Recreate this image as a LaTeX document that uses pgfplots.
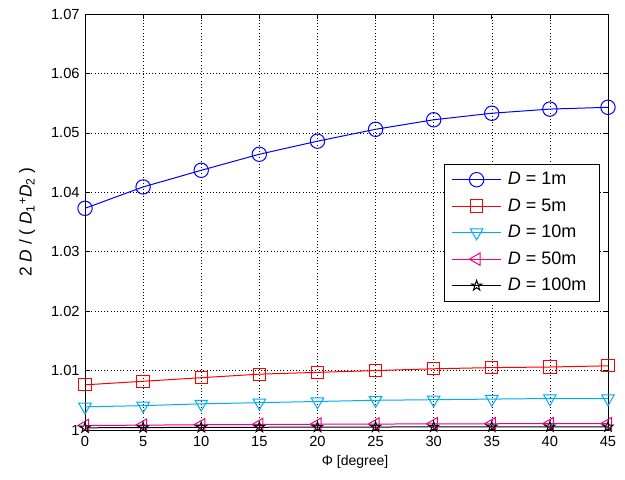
\documentclass[border=0pt]{standalone}
\usepackage{pgfplots}
\pgfplotsset{compat=1.18}
\usepackage{fontspec}
\setmainfont{Liberation Sans}
\pgfdeclareplotmark{pentagram}{%
  \pgfpathmoveto{\pgfpointpolar{90}{\pgfplotmarksize}}%
  \pgfpathlineto{\pgfpointpolar{126}{0.382\pgfplotmarksize}}%
  \pgfpathlineto{\pgfpointpolar{162}{\pgfplotmarksize}}%
  \pgfpathlineto{\pgfpointpolar{198}{0.382\pgfplotmarksize}}%
  \pgfpathlineto{\pgfpointpolar{234}{\pgfplotmarksize}}%
  \pgfpathlineto{\pgfpointpolar{270}{0.382\pgfplotmarksize}}%
  \pgfpathlineto{\pgfpointpolar{306}{\pgfplotmarksize}}%
  \pgfpathlineto{\pgfpointpolar{342}{0.382\pgfplotmarksize}}%
  \pgfpathlineto{\pgfpointpolar{18}{\pgfplotmarksize}}%
  \pgfpathlineto{\pgfpointpolar{54}{0.382\pgfplotmarksize}}%
  \pgfpathclose
  \pgfusepathqstroke
}
\begin{document}
\begin{tikzpicture}[x=1pt,y=1pt]
\useasboundingbox (-63.75,-36.75) rectangle (405,322.5);
\begin{axis}[
  at={(0,0)}, anchor=south west,
  scale only axis,
  width=392.25pt, height=312pt,
  xmin=0, xmax=45, ymin=1, ymax=1.07,
  xtick={0,5,...,45},
  ytick={1,1.01,1.02,1.03,1.04,1.05,1.06,1.07},
  yticklabel style={/pgf/number format/fixed,/pgf/number format/precision=2},
  /pgf/number format/assume math mode=true,
  tick align=inside,
  major tick length=4pt,
  grid=major,
  major grid style={black, line width=0.4pt, dotted},
  axis line style={black, line width=0.5pt},
  tick style={black, line width=0.5pt},
  ticklabel style={font=\fontsize{11}{13}\selectfont},
  xticklabel style={yshift=-1pt},
  yticklabel style={xshift=-0.5pt},
  xlabel={Φ [degree]},
  ylabel={2 \textit{D} / ( \textit{D}\textsubscript{1}\raisebox{0.55ex}{\small+}\textit{D}\textsubscript{2} )},
  xlabel style={font=\fontsize{10.5}{13}\selectfont, xshift=6.5pt},
  ylabel style={font=\fontsize{13}{15}\selectfont, yshift=5pt},
  legend style={at={(0.9847,0.639)}, anchor=north east, line width=0.5pt,
    font=\fontsize{13.5}{15}\selectfont, row sep=5pt, inner xsep=5.5pt, inner ysep=4pt,
    nodes={inner xsep=4.5pt}},
  legend cell align=left,
  legend image code/.code={\draw[mark repeat=2,mark phase=2,#1] plot coordinates {(0pt,0pt) (18.5pt,0pt) (37pt,0pt)};},
  every axis plot/.append style={line width=0.75pt},
]
\addplot[color=blue, mark=o, mark size=5.4pt, mark options={draw=blue, solid}] coordinates {
(0,1.0373) (5,1.0409) (10,1.0437) (15,1.0464) (20,1.0486) (25,1.0506) (30,1.0522) (35,1.0533) (40,1.0540) (45,1.0543)};
\addlegendentry{\textit{D} = 1m}
\addplot[color=red, mark=square, mark size=4.6pt, mark options={draw=red, solid}] coordinates {
(0,1.0076) (5,1.0082) (10,1.0088) (15,1.0094) (20,1.0097) (25,1.0100) (30,1.0103) (35,1.0105) (40,1.0106) (45,1.0108)};
\addlegendentry{\textit{D} = 5m}
\addplot[color=cyan, mark=triangle, mark size=5.4pt, mark options={rotate=180, draw=cyan, solid}] coordinates {
(0,1.0039) (5,1.0041) (10,1.0044) (15,1.0046) (20,1.0048) (25,1.0050) (30,1.0051) (35,1.0052) (40,1.0053) (45,1.0053)};
\addlegendentry{\textit{D} = 10m}
\addplot[color=magenta, mark=triangle, mark size=5.4pt, mark options={rotate=90, draw=magenta, solid}] coordinates {
(0,1.00075) (5,1.00082) (10,1.00088) (15,1.00093) (20,1.00097) (25,1.00100) (30,1.00103) (35,1.00105) (40,1.00107) (45,1.00108)};
\addlegendentry{\textit{D} = 50m}
\addplot[color=black, mark=pentagram, mark size=4pt, mark options={draw=black, solid}] coordinates {
(0,1.00037) (5,1.00041) (10,1.00044) (15,1.00046) (20,1.00048) (25,1.00050) (30,1.00052) (35,1.00053) (40,1.00054) (45,1.00054)};
\addlegendentry{\textit{D} = 100m}
\end{axis}
\end{tikzpicture}
\end{document}
